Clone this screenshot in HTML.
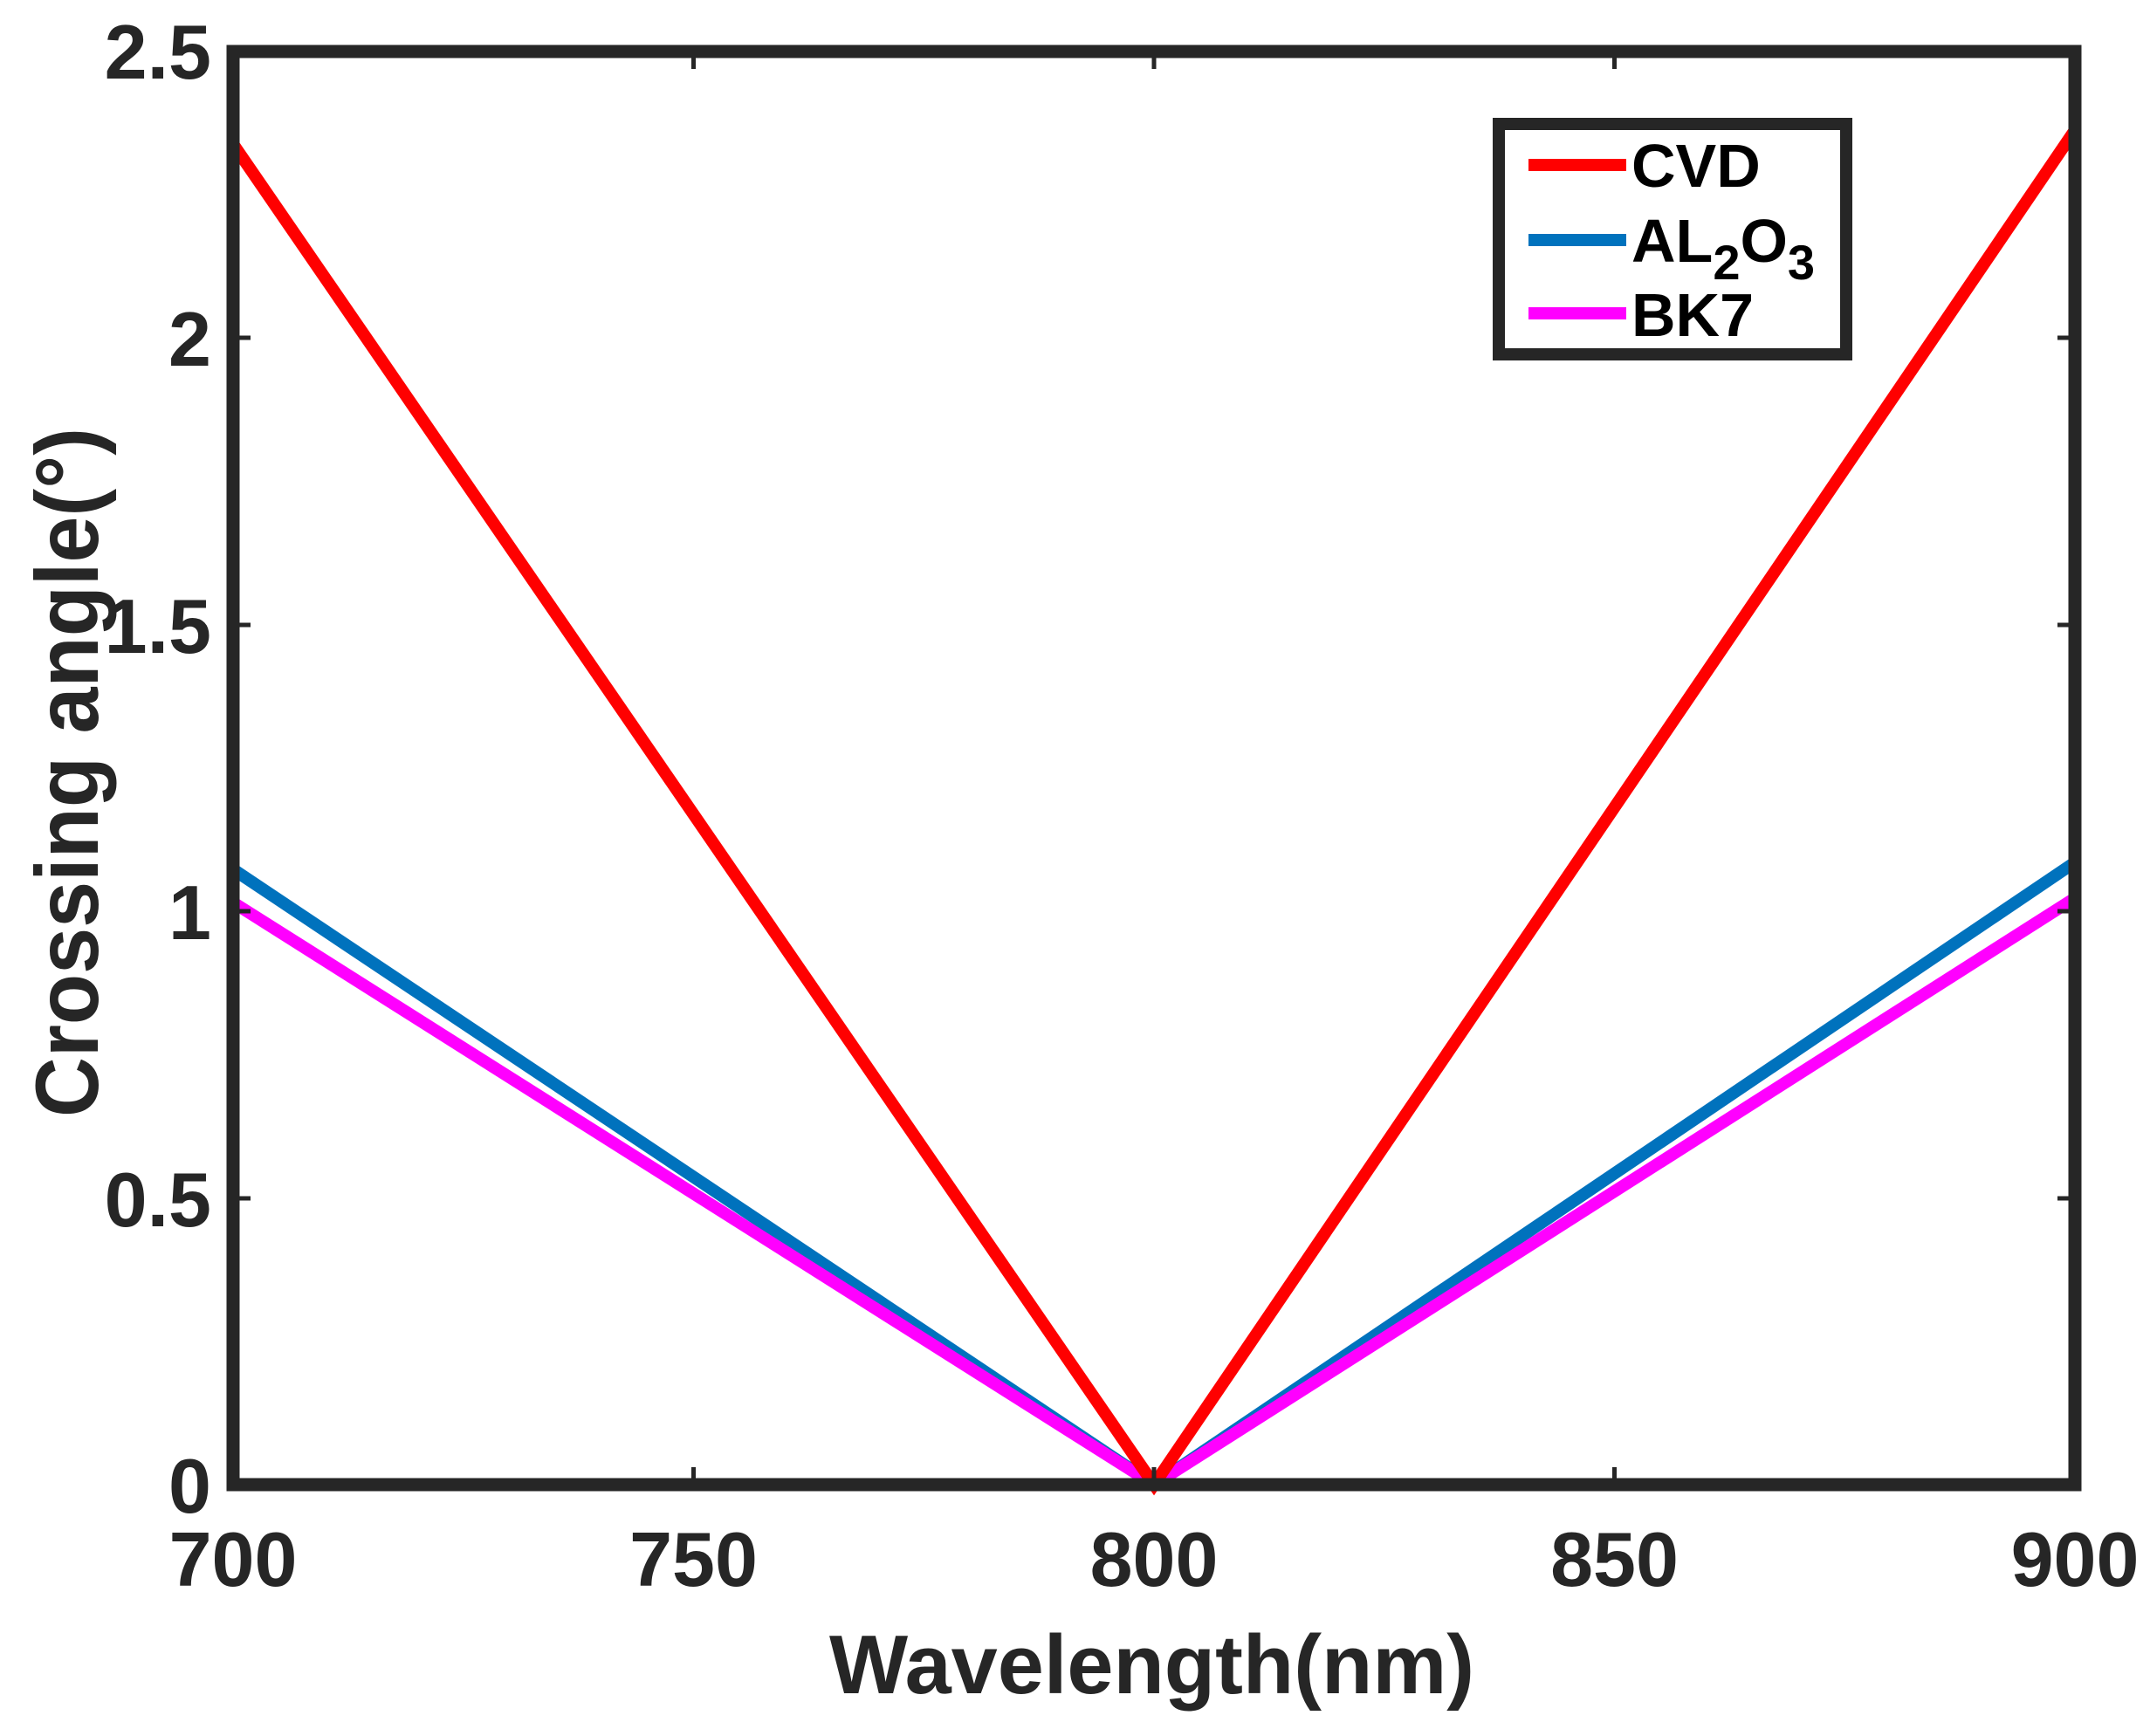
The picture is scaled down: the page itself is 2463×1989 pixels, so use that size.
<!DOCTYPE html>
<html><head><style>html,body{margin:0;padding:0;background:#fff}</style></head>
<body>
<svg width="2463" height="1984" viewBox="0 0 2463 1984" xmlns="http://www.w3.org/2000/svg" font-family="Liberation Sans, Arial, sans-serif" font-weight="bold" fill="#262626">
<rect width="2463" height="1984" fill="#fff"/>
<g stroke-linejoin="miter" fill="none" stroke-width="14">
<polyline points="267,996 1322,1701 2377,988" stroke="#0072BD"/>
<polyline points="267,1034 1322,1701 2377,1029" stroke="#FF00FF"/>
<polyline points="267,165 1322,1701 2377,149" stroke="#FF0000"/>
</g>
<g stroke="#262626" stroke-width="5">
<line x1="267" y1="387" x2="287" y2="387"/><line x1="267" y1="716" x2="287" y2="716"/><line x1="267" y1="1044" x2="287" y2="1044"/><line x1="267" y1="1373" x2="287" y2="1373"/>
<line x1="2377" y1="387" x2="2357" y2="387"/><line x1="2377" y1="716" x2="2357" y2="716"/><line x1="2377" y1="1044" x2="2357" y2="1044"/><line x1="2377" y1="1373" x2="2357" y2="1373"/>
<line x1="794.5" y1="1701" x2="794.5" y2="1681"/><line x1="1322" y1="1701" x2="1322" y2="1681"/><line x1="1849.5" y1="1701" x2="1849.5" y2="1681"/>
<line x1="794.5" y1="59" x2="794.5" y2="79"/><line x1="1322" y1="59" x2="1322" y2="79"/><line x1="1849.5" y1="59" x2="1849.5" y2="79"/>
</g>
<rect x="267" y="59" width="2110" height="1642" fill="none" stroke="#262626" stroke-width="15"/>
<g font-size="88" text-anchor="end">
<text x="242" y="90">2.5</text><text x="242" y="419">2</text><text x="242" y="748">1.5</text><text x="242" y="1076">1</text><text x="242" y="1405">0.5</text><text x="242" y="1733">0</text>
</g>
<g font-size="88" text-anchor="middle">
<text x="267" y="1817">700</text><text x="794.5" y="1817">750</text><text x="1322" y="1817">800</text><text x="1849.5" y="1817">850</text><text x="2377" y="1817">900</text>
</g>
<text x="950" y="1940" font-size="96" textLength="739" lengthAdjust="spacingAndGlyphs">Wavelength(nm)</text>
<text transform="translate(112,1280) rotate(-90)" font-size="102" textLength="790" lengthAdjust="spacingAndGlyphs">Crossing angle(°)</text>
<rect x="1717" y="142" width="398" height="264" fill="#fff" stroke="#262626" stroke-width="14"/>
<g stroke-width="14">
<line x1="1751" y1="189" x2="1863" y2="189" stroke="#FF0000"/>
<line x1="1751" y1="275" x2="1863" y2="275" stroke="#0072BD"/>
<line x1="1751" y1="359" x2="1863" y2="359" stroke="#FF00FF"/>
</g>
<g font-size="70" fill="#000">
<text x="1869" y="214">CVD</text>
<text x="1869" y="300">AL<tspan font-size="56" dy="20">2</tspan><tspan dy="-20">O</tspan><tspan font-size="56" dy="20">3</tspan></text>
<text x="1869" y="385">BK7</text>
</g>
</svg>
</body></html>
